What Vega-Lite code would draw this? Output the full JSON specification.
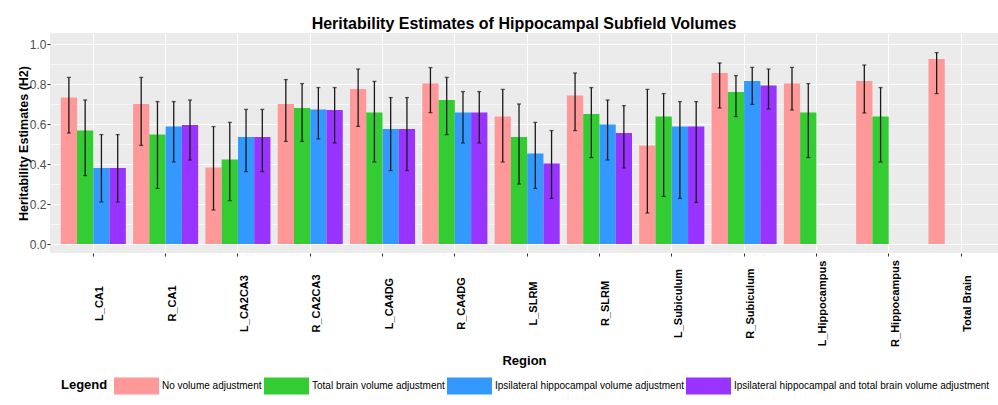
{
 "$schema": "https://vega.github.io/schema/vega-lite/v6.json",
 "width": 948,
 "height": 220,
 "autosize": {"type": "none"},
 "padding": {"left": 50, "top": 33, "right": 0, "bottom": 152},
 "background": "white",
 "title": {"text": "Heritability Estimates of Hippocampal Subfield Volumes", "font": "Liberation Sans", "fontSize": 16, "fontWeight": "bold", "color": "black", "anchor": "middle", "baseline": "alphabetic", "offset": 4, "dy": 16},
 "config": {
  "font": "Liberation Sans",
  "view": {"fill": "#EBEBEB", "stroke": null},
  "legend": {"padding": 0}
 },
 "data": {"values": [
  {"region": "L_CA1", "s": "No volume adjustment", "h": 0.733, "lo": 0.555, "hi": 0.833},
  {"region": "L_CA1", "s": "Total brain volume adjustment", "h": 0.568, "lo": 0.342, "hi": 0.72},
  {"region": "L_CA1", "s": "Ipsilateral hippocampal volume adjustment", "h": 0.38, "lo": 0.21, "hi": 0.547},
  {"region": "L_CA1", "s": "Ipsilateral hippocampal and total brain volume adjustment", "h": 0.38, "lo": 0.21, "hi": 0.547},
  {"region": "R_CA1", "s": "No volume adjustment", "h": 0.70, "lo": 0.493, "hi": 0.833},
  {"region": "R_CA1", "s": "Total brain volume adjustment", "h": 0.548, "lo": 0.278, "hi": 0.712},
  {"region": "R_CA1", "s": "Ipsilateral hippocampal volume adjustment", "h": 0.588, "lo": 0.41, "hi": 0.712},
  {"region": "R_CA1", "s": "Ipsilateral hippocampal and total brain volume adjustment", "h": 0.595, "lo": 0.42, "hi": 0.72},
  {"region": "L_CA2CA3", "s": "No volume adjustment", "h": 0.383, "lo": 0.17, "hi": 0.587},
  {"region": "L_CA2CA3", "s": "Total brain volume adjustment", "h": 0.423, "lo": 0.217, "hi": 0.608},
  {"region": "L_CA2CA3", "s": "Ipsilateral hippocampal volume adjustment", "h": 0.535, "lo": 0.362, "hi": 0.673},
  {"region": "L_CA2CA3", "s": "Ipsilateral hippocampal and total brain volume adjustment", "h": 0.535, "lo": 0.362, "hi": 0.673},
  {"region": "R_CA2CA3", "s": "No volume adjustment", "h": 0.70, "lo": 0.513, "hi": 0.822},
  {"region": "R_CA2CA3", "s": "Total brain volume adjustment", "h": 0.68, "lo": 0.513, "hi": 0.802},
  {"region": "R_CA2CA3", "s": "Ipsilateral hippocampal volume adjustment", "h": 0.672, "lo": 0.525, "hi": 0.782},
  {"region": "R_CA2CA3", "s": "Ipsilateral hippocampal and total brain volume adjustment", "h": 0.67, "lo": 0.505, "hi": 0.782},
  {"region": "L_CA4DG", "s": "No volume adjustment", "h": 0.775, "lo": 0.588, "hi": 0.875},
  {"region": "L_CA4DG", "s": "Total brain volume adjustment", "h": 0.658, "lo": 0.41, "hi": 0.813},
  {"region": "L_CA4DG", "s": "Ipsilateral hippocampal volume adjustment", "h": 0.575, "lo": 0.367, "hi": 0.732},
  {"region": "L_CA4DG", "s": "Ipsilateral hippocampal and total brain volume adjustment", "h": 0.575, "lo": 0.367, "hi": 0.732},
  {"region": "R_CA4DG", "s": "No volume adjustment", "h": 0.803, "lo": 0.657, "hi": 0.882},
  {"region": "R_CA4DG", "s": "Total brain volume adjustment", "h": 0.72, "lo": 0.547, "hi": 0.833},
  {"region": "R_CA4DG", "s": "Ipsilateral hippocampal volume adjustment", "h": 0.658, "lo": 0.505, "hi": 0.762},
  {"region": "R_CA4DG", "s": "Ipsilateral hippocampal and total brain volume adjustment", "h": 0.658, "lo": 0.505, "hi": 0.762},
  {"region": "L_SLRM", "s": "No volume adjustment", "h": 0.638, "lo": 0.41, "hi": 0.773},
  {"region": "L_SLRM", "s": "Total brain volume adjustment", "h": 0.535, "lo": 0.30, "hi": 0.70},
  {"region": "L_SLRM", "s": "Ipsilateral hippocampal volume adjustment", "h": 0.453, "lo": 0.278, "hi": 0.608},
  {"region": "L_SLRM", "s": "Ipsilateral hippocampal and total brain volume adjustment", "h": 0.403, "lo": 0.228, "hi": 0.567},
  {"region": "R_SLRM", "s": "No volume adjustment", "h": 0.742, "lo": 0.567, "hi": 0.855},
  {"region": "R_SLRM", "s": "Total brain volume adjustment", "h": 0.65, "lo": 0.432, "hi": 0.782},
  {"region": "R_SLRM", "s": "Ipsilateral hippocampal volume adjustment", "h": 0.597, "lo": 0.42, "hi": 0.72},
  {"region": "R_SLRM", "s": "Ipsilateral hippocampal and total brain volume adjustment", "h": 0.555, "lo": 0.38, "hi": 0.692},
  {"region": "L_Subiculum", "s": "No volume adjustment", "h": 0.493, "lo": 0.155, "hi": 0.773},
  {"region": "L_Subiculum", "s": "Total brain volume adjustment", "h": 0.638, "lo": 0.238, "hi": 0.752},
  {"region": "L_Subiculum", "s": "Ipsilateral hippocampal volume adjustment", "h": 0.588, "lo": 0.228, "hi": 0.712},
  {"region": "L_Subiculum", "s": "Ipsilateral hippocampal and total brain volume adjustment", "h": 0.588, "lo": 0.208, "hi": 0.712},
  {"region": "R_Subiculum", "s": "No volume adjustment", "h": 0.855, "lo": 0.68, "hi": 0.905},
  {"region": "R_Subiculum", "s": "Total brain volume adjustment", "h": 0.76, "lo": 0.637, "hi": 0.842},
  {"region": "R_Subiculum", "s": "Ipsilateral hippocampal volume adjustment", "h": 0.815, "lo": 0.698, "hi": 0.883},
  {"region": "R_Subiculum", "s": "Ipsilateral hippocampal and total brain volume adjustment", "h": 0.793, "lo": 0.675, "hi": 0.875},
  {"region": "L_Hippocampus", "s": "No volume adjustment", "h": 0.803, "lo": 0.67, "hi": 0.883},
  {"region": "L_Hippocampus", "s": "Total brain volume adjustment", "h": 0.658, "lo": 0.432, "hi": 0.802},
  {"region": "R_Hippocampus", "s": "No volume adjustment", "h": 0.815, "lo": 0.655, "hi": 0.895},
  {"region": "R_Hippocampus", "s": "Total brain volume adjustment", "h": 0.638, "lo": 0.41, "hi": 0.782},
  {"region": "Total Brain", "s": "No volume adjustment", "h": 0.925, "lo": 0.752, "hi": 0.957}
 ]},
 "layer": [
  {
   "mark": {"type": "bar"},
   "encoding": {
    "x": {"field": "region", "type": "nominal", "sort": null,
     "scale": {"paddingInner": 0.1, "paddingOuter": 0.105, "align": 0.708},
     "axis": {"title": "Region", "titleFontSize": 13, "titleFontWeight": "bold", "titleColor": "black", "titleX": 474, "titleY": 107, "titleAlign": "center", "titleBaseline": "middle",
      "labelAngle": 270, "labelAlign": "center", "labelBaseline": "middle", "labelFontSize": 11, "labelFontWeight": "bold", "labelColor": "black", "labelPadding": 47, "labelOffset": 7, "labelOverlap": false, "labelBound": false,
      "tickSize": 3, "tickColor": "#333333", "tickWidth": 1, "domain": false, "grid": true, "gridColor": "white", "gridWidth": 1.1, "bandPosition": 0.5}},
    "xOffset": {"field": "s", "type": "nominal", "scale": {"domain": ["No volume adjustment", "Total brain volume adjustment", "Ipsilateral hippocampal volume adjustment", "Ipsilateral hippocampal and total brain volume adjustment"], "paddingInner": 0, "paddingOuter": 0}},
    "y": {"field": "h", "type": "quantitative", "stack": null,
     "scale": {"domain": [-0.045, 1.055], "nice": false, "zero": false},
     "axis": {"values": [0, 0.2, 0.4, 0.6, 0.8, 1.0], "format": ".1f", "title": "Heritability Estimates (H2)", "titleFontSize": 12.5, "titleFontWeight": "bold", "titleColor": "black", "titleX": -27, "titleY": 110, "titleAngle": 270, "titleAlign": "center", "titleBaseline": "middle",
      "labelFontSize": 12, "labelColor": "#4D4D4D", "labelPadding": 1, "tickSize": 3, "tickColor": "#333333", "domain": false, "grid": true, "gridColor": "white", "gridWidth": 1.1}},
    "y2": {"datum": 0},
    "color": {"field": "s", "type": "nominal",
     "scale": {"domain": ["No volume adjustment", "Total brain volume adjustment", "Ipsilateral hippocampal volume adjustment", "Ipsilateral hippocampal and total brain volume adjustment"], "range": ["#FF9999", "#33CC33", "#3399FF", "#9933FF"]},
     "legend": {"title": "Legend", "orient": "none", "legendX": 11, "legendY": 330, "direction": "horizontal", "titleOrient": "left", "titleFontSize": 13, "titleFontWeight": "bold", "titleColor": "black", "titlePadding": 6, "titleAnchor": "middle", "titleBaseline": "top",
      "labelFontSize": 10, "labelColor": "black", "labelOffset": 3, "labelLimit": 400, "columnPadding": 2,
      "symbolType": "M-1,-0.378H1V0.378H-1Z", "symbolSize": 2025, "symbolStrokeWidth": 0, "symbolOpacity": 1}}
   }
  },
  {
   "mark": {"type": "rule", "color": "#1a1a1a", "strokeWidth": 1.3},
   "encoding": {
    "x": {"field": "region", "type": "nominal", "sort": null},
    "xOffset": {"field": "s", "type": "nominal"},
    "y": {"field": "lo", "type": "quantitative",
     "axis": {"values": [0.1, 0.3, 0.5, 0.7, 0.9], "grid": true, "gridColor": "white", "gridWidth": 0.55, "labels": false, "ticks": false, "domain": false, "title": null}},
    "y2": {"field": "hi"}
   }
  },
  {
   "mark": {"type": "tick", "color": "#1a1a1a", "thickness": 1.3, "size": 4},
   "encoding": {
    "x": {"field": "region", "type": "nominal", "sort": null},
    "xOffset": {"field": "s", "type": "nominal"},
    "y": {"field": "lo", "type": "quantitative", "axis": null}
   }
  },
  {
   "mark": {"type": "tick", "color": "#1a1a1a", "thickness": 1.3, "size": 4},
   "encoding": {
    "x": {"field": "region", "type": "nominal", "sort": null},
    "xOffset": {"field": "s", "type": "nominal"},
    "y": {"field": "hi", "type": "quantitative", "axis": null}
   }
  }
 ],
 "resolve": {"axis": {"y": "independent"}}
}
